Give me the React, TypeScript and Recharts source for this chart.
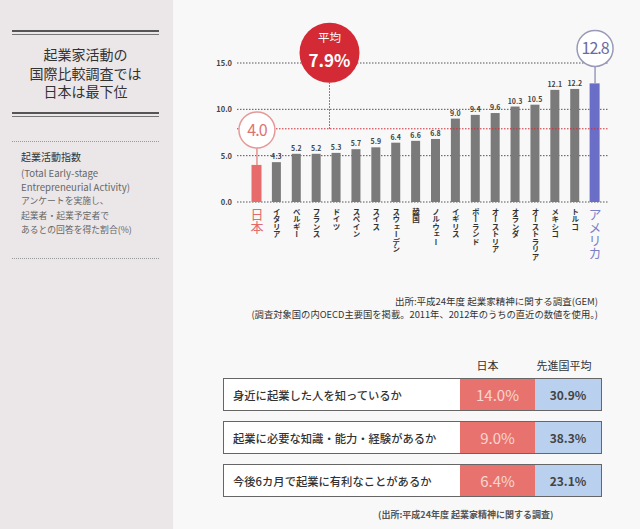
import React from 'react';
import { BarChart, Bar, XAxis, YAxis, CartesianGrid, ReferenceLine, ReferenceDot, LabelList } from 'recharts';

const countries = ['日本', 'イタリア', 'ベルギー', 'フランス', 'ドイツ', 'スペイン', 'スイス', 'スウェーデン', '韓国', 'ノルウェー', 'イギリス', 'ポーランド', 'オーストリア', 'オランダ', 'オーストラリア', 'メキシコ', 'トルコ', 'アメリカ'];
const teaValues = [4.0, 4.3, 5.2, 5.2, 5.3, 5.7, 5.9, 6.4, 6.6, 6.8, 9.0, 9.4, 9.6, 10.3, 10.5, 12.1, 12.2, 12.8];
const yTicks = [0, 5, 10, 15];
const averageValue = 7.9;
const averageLabel = '7.9%';

const questions = ['身近に起業した人を知っているか', '起業に必要な知識・能力・経験があるか', '今後6カ月で起業に有利なことがあるか'];
const japanRates = ['14.0%', '9.0%', '6.4%'];
const advancedRates = ['30.9%', '38.3%', '23.1%'];

const titleLines = ['起業家活動の', '国際比較調査では', '日本は最下位'];
const noteLines = ['(Total Early-stage', 'Entrepreneurial Activity)', 'アンケートを実施し、', '起業者・起業予定者で', 'あるとの回答を得た割合(%)'];

const data = countries.map((c, i) => ({ country: c, value: teaValues[i] }));

const FONT = '"Noto Sans CJK JP", "Noto Sans", sans-serif';
const GRAY = '#7a7a7a';
const JP = '#e86b6b';
const US = '#6a6ec6';
const RED = '#d42a35';

const lastIdx = countries.length - 1;

const BarShape = (props: any) => {
  const { x, y, width, height, index } = props;
  const isJp = index === 0;
  const isUs = index === lastIdx;
  const fill = isJp ? JP : isUs ? US : GRAY;
  const cx = x + width / 2;
  const w = isJp || isUs ? width + 1 : width;
  return <rect x={cx - w / 2} y={y} width={w} height={height} fill={fill} />;
};

const makeCallout = (isJp: boolean, label: string) => (props: any) => {
  const { cx, cy } = props;
  return (
    <g>
      <line x1={cx} x2={cx} y1={cy - 17} y2={cy} stroke={isJp ? '#e89090' : '#9a9ac0'} strokeWidth={1.5} />
      <circle cx={cx} cy={cy - 35} r={18} fill="#fff" stroke={isJp ? '#e59a9a' : '#9a9ab8'} strokeWidth={1.5} />
      <text x={cx} y={cy - 29} textAnchor="middle" fontFamily={FONT} fontSize={16} fill={isJp ? '#e07272' : '#6a6aa2'} letterSpacing={-1}>
        {label}
      </text>
    </g>
  );
};

const JpCallout = makeCallout(true, teaValues[0].toFixed(1));
const UsCallout = makeCallout(false, teaValues[lastIdx].toFixed(1));

const ValueLabel = (props: any) => {
  const { x, y, width, value, index } = props;
  if (index === 0 || index === lastIdx) return null;
  return (
    <text x={x + width / 2} y={y - 3} textAnchor="middle" fontFamily={FONT} fontSize={7} fontWeight={700} fill="#444">
      {Number(value).toFixed(1)}
    </text>
  );
};

const CountryTick = (props: any) => {
  const { x, y, payload, index } = props;
  const big = index === 0 || index === lastIdx;
  const color = index === 0 ? '#e26a6a' : index === lastIdx ? '#7a7ec8' : '#333';
  return (
    <text x={x} y={y} textAnchor="start" fontFamily={FONT} fontSize={big ? 13 : 7.5} fontWeight={big ? 400 : 700} fill={color} style={{ writingMode: 'vertical-rl' }}>
      {payload.value}
    </text>
  );
};

const ValueTick = (props: any) => {
  const { x, y, payload } = props;
  return (
    <text x={x} y={y + 3} textAnchor="end" fontFamily={FONT} fontSize={7.5} fontWeight={700} fill="#444">
      {Number(payload.value).toFixed(1)}
    </text>
  );
};

const AvgBadge = (props: any) => {
  const { cx, cy } = props;
  const bx = cx - 7;
  return (
    <g>
      <line x1={bx} x2={bx} y1={cy} y2={cy - 46} stroke={RED} strokeWidth={1} strokeDasharray="1.5 1.5" />
      <circle cx={bx} cy={cy - 76} r={30} fill={RED} />
      <text x={bx} y={cy - 87} textAnchor="middle" fontFamily={FONT} fontSize={11.5} fill="#fff">平均</text>
      <text x={bx} y={cy - 62} textAnchor="middle" fontFamily={FONT} fontSize={17} fontWeight={700} fill="#fff">{averageLabel}</text>
    </g>
  );
};

export default function App() {
  return (
    <div style={{ position: 'relative', width: 640, height: 529, background: '#f8f8f8', overflow: 'hidden', fontFamily: FONT }}>
      <style>{`body{margin:0}`}</style>
      {/* left panel */}
      <div style={{ position: 'absolute', left: 0, top: 0, width: 173, height: 529, background: '#ebe6e8' }}>
        <div style={{ position: 'absolute', left: 12, top: 30, width: 147, height: 2, background: '#555' }} />
        <div style={{ position: 'absolute', left: 12, top: 34, width: 147, height: 1, background: '#777' }} />
        {titleLines.map((t, i) => (
          <div key={i} style={{ position: 'absolute', left: 0, width: 171, top: 46 + i * 18.5, textAlign: 'center', fontSize: 14, lineHeight: '17px', color: '#333' }}>{t}</div>
        ))}
        <div style={{ position: 'absolute', left: 12, top: 112, width: 147, height: 2, background: '#555' }} />
        <div style={{ position: 'absolute', left: 12, top: 116, width: 147, height: 1, background: '#777' }} />
        <div style={{ position: 'absolute', left: 12, top: 141, width: 147, borderTop: '1px dotted #999' }} />
        <div style={{ position: 'absolute', left: 21, top: 150, fontSize: 10, lineHeight: '14px', color: '#333' }}>起業活動指数</div>
        {noteLines.map((t, i) => (
          <div key={i} style={{ position: 'absolute', left: 21, top: 166 + i * 14.2, fontSize: i < 2 ? 9.6 : 8.8, lineHeight: '14px', color: '#666', whiteSpace: 'nowrap' }}>{t}</div>
        ))}
        <div style={{ position: 'absolute', left: 12, top: 258, width: 147, borderTop: '1px dotted #999' }} />
      </div>

      {/* chart */}
      <div style={{ position: 'absolute', left: 0, top: 0 }}>
        <BarChart width={640} height={529} data={data} margin={{ top: 63, right: 32, left: 200, bottom: 267 }}>
          <CartesianGrid horizontal vertical={false} stroke="#555" strokeDasharray="1.5 1.5" />
          <XAxis dataKey="country" interval={0} axisLine={false} tickLine={false} tickSize={0} tickMargin={6} height={60} padding={{ left: 10, right: 3 }} tick={<CountryTick />} />
          <YAxis domain={[0, 15]} ticks={yTicks} width={37} axisLine={false} tickLine={false} tickSize={0} tickMargin={5} tick={<ValueTick />} />
          <ReferenceLine y={averageValue} stroke={RED} strokeDasharray="1.5 1.5" strokeWidth={1} />
          <Bar dataKey="value" barSize={9} isAnimationActive={false} shape={<BarShape />}>
            <LabelList dataKey="value" content={<ValueLabel />} />
          </Bar>
          <ReferenceDot x={countries[0]} y={teaValues[0]} r={0} shape={<JpCallout />} />
          <ReferenceDot x={countries[lastIdx]} y={teaValues[lastIdx]} r={0} shape={<UsCallout />} />
          <ReferenceDot x={countries[4]} y={averageValue} r={0} shape={<AvgBadge />} />
        </BarChart>
      </div>

      {/* source */}
      <div style={{ position: 'absolute', right: 42, top: 294, fontSize: 9.5, color: '#333', whiteSpace: 'nowrap' }}>出所:平成24年度 起業家精神に関する調査(GEM)</div>
      <div style={{ position: 'absolute', right: 42, top: 307, fontSize: 9.3, color: '#333', whiteSpace: 'nowrap' }}>(調査対象国の内OECD主要国を掲載。2011年、2012年のうちの直近の数値を使用。)</div>

      {/* table */}
      <div style={{ position: 'absolute', left: 450, width: 75, top: 357, textAlign: 'center', fontSize: 11, color: '#333' }}>日本</div>
      <div style={{ position: 'absolute', left: 525, width: 78, top: 357, textAlign: 'center', fontSize: 11, color: '#333' }}>先進国平均</div>
      {questions.map((q, i) => (
        <div key={i} style={{ position: 'absolute', left: 223, top: 378 + i * 43, width: 377, height: 31, border: '1.5px solid #666', background: '#fff', display: 'flex' }}>
          <div style={{ width: 227, paddingLeft: 9, display: 'flex', alignItems: 'center', fontSize: 11.3, fontWeight: 500, color: '#333', whiteSpace: 'nowrap' }}>{q}</div>
          <div style={{ width: 75, background: '#e8736e', display: 'flex', alignItems: 'center', justifyContent: 'center', fontSize: 15, color: '#f8d6d2' }}>{japanRates[i]}</div>
          <div style={{ flex: 1, background: '#b9d1ef', display: 'flex', alignItems: 'center', justifyContent: 'center', fontSize: 12, fontWeight: 700, color: '#444' }}>{advancedRates[i]}</div>
        </div>
      ))}
      <div style={{ position: 'absolute', left: 378, top: 508, fontSize: 9, fontWeight: 700, color: '#555', whiteSpace: 'nowrap' }}>(出所:平成24年度 起業家精神に関する調査)</div>
    </div>
  );
}
